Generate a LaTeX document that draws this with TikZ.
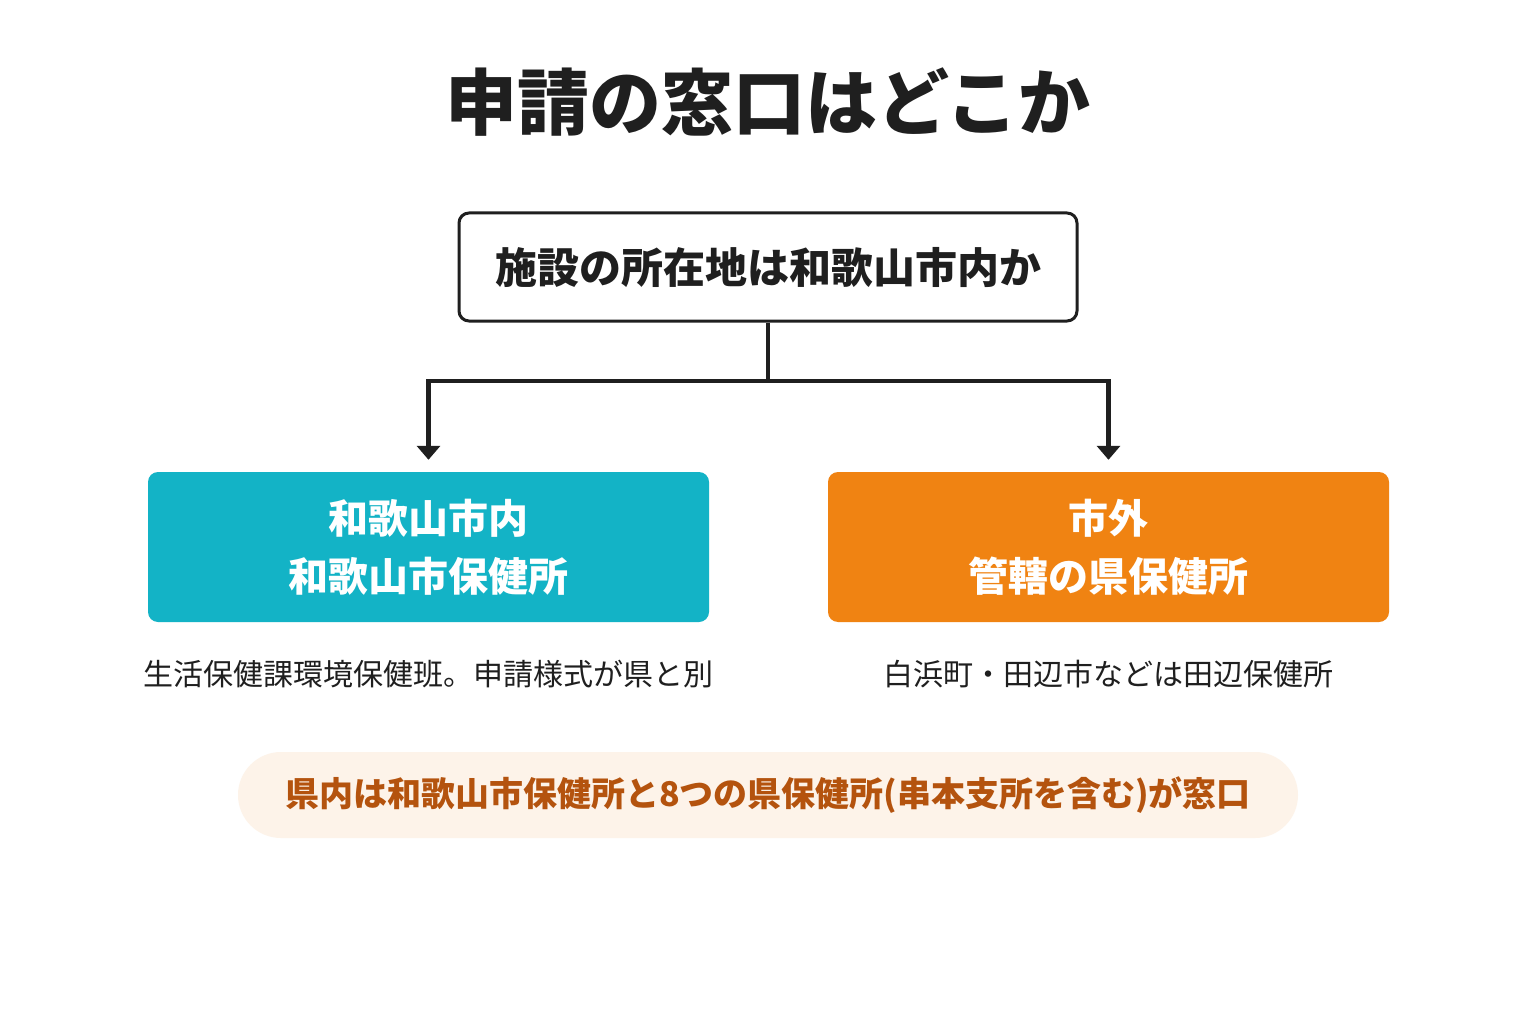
\documentclass[tikz,border=0pt]{standalone}
\usepackage{fontspec}
\setmainfont{Noto Sans CJK JP}
\usetikzlibrary{arrows.meta}
\definecolor{ink}{HTML}{1F1F1F}
\definecolor{teal}{HTML}{13B3C6}
\definecolor{orng}{HTML}{F08312}
\definecolor{pill}{HTML}{FDF3E9}
\definecolor{brown}{HTML}{B4530E}
\tikzset{
  titletext/.style={inner sep=0pt, text=ink, font=\fontsize{72}{86}\selectfont\bfseries},
  qbox/.style={draw=ink, line width=3pt, rounded corners=10pt, fill=white,
    minimum width=618pt, minimum height=108pt, text=ink,
    font=\fontsize{42}{50}\selectfont\bfseries},
  ansbox/.style={rounded corners=10pt, minimum width=561pt, minimum height=150pt,
    text=white, align=center, font=\fontsize{40}{58}\selectfont\bfseries},
  subtext/.style={inner sep=0pt, text=ink, font=\fontsize{30}{36}\selectfont},
  pillbox/.style={fill=pill, rounded corners=43pt, minimum width=1060pt, minimum height=86pt,
    text=brown, font=\fontsize{34}{40}\selectfont\bfseries},
  conn/.style={draw=ink, line width=4.5pt},
  arr/.style={conn, -{Triangle[width=23pt,length=14pt]}}
}
\begin{document}
\begin{tikzpicture}[x=1pt,y=-1pt]
\useasboundingbox[fill=white] (0,0) rectangle (1536,1024);
\node[titletext] (title) at (768,102) {申請の窓口はどこか};
\node[qbox] (q) at (768,267) {施設の所在地は和歌山市内か};
\node[ansbox, fill=teal] (L) at (428.5,547) {和歌山市内\\和歌山市保健所};
\node[ansbox, fill=orng] (R) at (1108.5,547) {市外\\管轄の県保健所};
\node[subtext] (Ls) at (428.5,674) {生活保健課環境保健班。申請様式が県と別};
\node[subtext] (Rs) at (1108.5,674) {白浜町・田辺市などは田辺保健所};
\node[pillbox] (note) at (768,795) {県内は和歌山市保健所と8つの県保健所(串本支所を含む)が窓口};
\coordinate (split) at (768,381);
\draw[conn] (q.south) -- (split);
\draw[arr] (split) -| ([yshift=12pt]L.north);
\draw[arr] (split) -| ([yshift=12pt]R.north);
\end{tikzpicture}
\end{document}
